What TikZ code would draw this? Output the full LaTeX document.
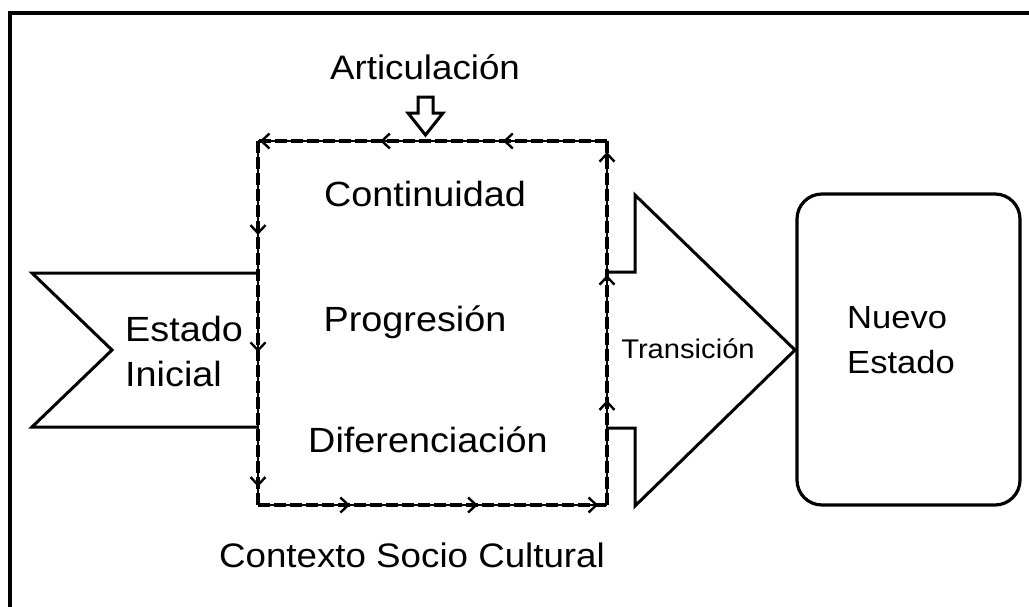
\documentclass[tikz,border=0pt]{standalone}
\usepackage{fontspec}
\setmainfont{Liberation Sans}[FakeStretch=1.08]
\usetikzlibrary{arrows.meta,decorations.markings}
\tikzset{
  lbl/.style={inner sep=0pt, font=\fontsize{35}{45}\selectfont},
  outl/.style={draw, line width=3pt, line join=miter},
  flowthin/.style={line width=1.3pt},
  flowdash/.style={line width=3.2pt, dash pattern=on 12pt off 4pt},
  tipsat/.style n args={3}{line width=2.4pt, postaction={decorate}, decoration={markings,
   mark=at position #1 with {\arrow{Straight Barb[length=8pt,width=15pt,line width=2.4pt]}},
   mark=at position #2 with {\arrow{Straight Barb[length=8pt,width=15pt,line width=2.4pt]}},
   mark=at position #3 with {\arrow{Straight Barb[length=8pt,width=15pt,line width=2.4pt]}}}},
}
\begin{document}
\begin{tikzpicture}[x=1pt,y=-1pt]
\useasboundingbox (0,0) rectangle (1029,606);
% frame
\draw[line width=3.5pt] (10,608) -- (10,13) -- (1031,13);

% coordinates of dashed loop
\coordinate (tl) at (258,141);
\coordinate (tr) at (607,141);
\coordinate (bl) at (258,505);
\coordinate (br) at (607,505);

% Estado Inicial chevron
\draw[outl] (258,273) -- (32,273) -- (112,350) -- (32,427) -- (258,427);

% Transicion arrow
\draw[outl] (607,272) -- (635,272) -- (635,195) -- (795,350) coordinate (trtip) -- (635,506) -- (635,428) -- (607,428);

% Nuevo Estado box
\node[draw, line width=3.2pt, rounded corners=25pt, minimum width=223pt, minimum height=311pt, inner sep=0pt] (ne) at (908.5,349.5) {};

% dashed loop
\foreach \a/\b in {tr/tl, tl/bl, bl/br, br/tr}{
  \draw[flowthin] (\a) -- (\b);
  \draw[flowdash] (\a) -- (\b);
}
\path[tipsat={0.298}{0.65}{0.995}] (tr) -- (tl);
\path[tipsat={0.258}{0.58}{0.95}] (tl) -- (bl);
\path[tipsat={0.264}{0.63}{0.975}] (bl) -- (br);
\path[tipsat={0.288}{0.632}{0.97}] (br) -- (tr);

% Articulacion hollow arrow
\coordinate (artarrow) at (425.5,135);
\draw[line width=3pt, line join=miter, fill=white]
  (418,97) -- (433,97) -- (433,113) -- (443,113) -- (artarrow) -- (408,113) -- (418,113) -- cycle;

% texts
\node[lbl, font=\fontsize{34}{45}\selectfont] (art) at (425,67) {Articulación};
\node[lbl] (cont) at (425,194) {Continuidad};
\node[lbl] (prog) at (415,322) {Progresión};
\node[lbl] (dif) at (428,440) {Diferenciación};
\node[lbl, font=\fontsize{34}{45}\selectfont] (ctx) at (412,555) {Contexto Socio Cultural};
\node[lbl, align=left, anchor=west] (ei) at (125,351) {Estado\\Inicial};
\node[lbl, font=\fontsize{27}{30}\selectfont] (trn) at (688,349) {Transición};
\node[lbl, align=left, anchor=west, font=\fontsize{32}{45}\selectfont] (net) at (847,340) {Nuevo\\Estado};
\end{tikzpicture}
\end{document}
